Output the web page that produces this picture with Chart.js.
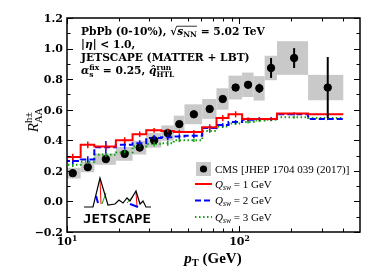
<!DOCTYPE html>
<html>
<head>
<meta charset="utf-8">
<script src="https://cdn.jsdelivr.net/npm/chart.js@4.4.1/dist/chart.umd.min.js"></script>
<style>
html, body { margin: 0; padding: 0; background: #fff; }
</style>
</head>
<body>
<canvas id="raa" width="374" height="280"></canvas>
<script>
// pT bins (GeV), shared by the CMS data and the model histograms
const binEdges = [9.6, 12, 14.4, 19.2, 24, 28.8, 35.2, 41.6, 48, 60.8, 73.6, 86.4, 103.6, 120.8, 140, 165, 250, 400];
const binCenters = [10.8, 13.2, 16.8, 21.6, 26.4, 32, 38.4, 44.8, 54.4, 67.2, 80, 95, 112.2, 130.4, 152.5, 207.5, 325];

// CMS charged hadron R_AA, 0-10%
const cmsRaa  = [0.185, 0.224, 0.277, 0.311, 0.352, 0.40, 0.447, 0.506, 0.57, 0.605, 0.67, 0.745, 0.763, 0.74, 0.873, 0.938, 0.745];
const cmsStat = [0.005, 0.005, 0.005, 0.005, 0.005, 0.005, 0.006, 0.006, 0.008, 0.01, 0.012, 0.02, 0.02, 0.03, 0.065, 0.065, 0.2];
const cmsSys  = [0.035, 0.033, 0.037, 0.045, 0.045, 0.048, 0.05, 0.055, 0.065, 0.065, 0.07, 0.078, 0.08, 0.08, 0.08, 0.11, 0.083];

// MATTER+LBT for three switching virtualities
const qsw1 = [0.29, 0.37, 0.36, 0.40, 0.44, 0.465, 0.46, 0.455, 0.455, 0.485, 0.545, 0.57, 0.54, 0.54, 0.54, 0.575, 0.57];
const qsw2 = [0.265, 0.275, 0.355, 0.37, 0.38, 0.415, 0.42, 0.425, 0.43, 0.48, 0.50, 0.52, 0.535, 0.54, 0.54, 0.57, 0.54];
const qsw3 = [0.24, 0.26, 0.305, 0.32, 0.36, 0.375, 0.38, 0.40, 0.40, 0.46, 0.49, 0.51, 0.52, 0.53, 0.535, 0.55, 0.545];
const qsw1Err = [0.022, 0.022, 0.022, 0.02, 0.018, 0.015, 0.015, 0.012, 0.012, 0.02, 0.02, 0.02, 0.01, 0.01, 0.01, 0.008, 0.008];
const qsw2Err = [0.02, 0.02, 0.04, 0.03, 0.02, 0.02, 0.02, 0.015, 0.015, 0.015, 0.012, 0.012, 0.01, 0.01, 0.01, 0.008, 0.008];
const qsw3Err = [0.015, 0.015, 0.015, 0.015, 0.015, 0.015, 0.015, 0.012, 0.012, 0.012, 0.01, 0.01, 0.01, 0.01, 0.01, 0.008, 0.008];

const yTicks = [-0.2, 0.0, 0.2, 0.4, 0.6, 0.8, 1.0, 1.2];
const yTickLabels = ['\u22120.2', '0.0', '0.2', '0.4', '0.6', '0.8', '1.0', '1.2'];
const xMajor = [10, 100];
const xMajorExp = ['1', '2'];
const xMinor = [20, 30, 40, 50, 60, 70, 80, 90, 200, 300, 400];

const SERIF = '"Liberation Serif", "DejaVu Serif", serif';
const WIDE = '"DejaVu Serif", "Liberation Serif", serif';
const RED = '#ff0000';
const BLUE = '#0000ff';
const GREEN = '#13a013';

function stepData(values) {
    const pts = values.map((v, i) => ({ x: binEdges[i], y: v }));
    pts.push({ x: binEdges[binEdges.length - 1], y: values[values.length - 1] });
    return pts;
}

// draw text made of pieces: [text, kind, extra]; kind n = upright, i = italic, sub, sup, ss = sup+sub
function drawRich(ctx, x, y, parts, size, weight, dry, family) {
    let cx = x;
    const fam = family || SERIF;
    const f = (it, s) => (it ? 'italic ' : '') + weight + ' ' + s + 'px ' + fam;
    parts.forEach(p => {
        const txt = p[0], kind = p[1];
        if (kind === 'n' || kind === 'i') {
            ctx.font = f(kind === 'i', size);
            if (!dry) ctx.fillText(txt, cx, y);
            cx += ctx.measureText(txt).width;
        } else if (kind === 'sub') {
            ctx.font = f(p[2], size * 0.7);
            if (!dry) ctx.fillText(txt, cx, y + size * 0.22);
            cx += ctx.measureText(txt).width;
        } else if (kind === 'sup') {
            ctx.font = f(p[2], size * 0.7);
            if (!dry) ctx.fillText(txt, cx, y - size * 0.4);
            cx += ctx.measureText(txt).width;
        } else if (kind === 'ss') {
            ctx.font = f(false, size * 0.7);
            const w1 = ctx.measureText(txt).width;
            const w2 = ctx.measureText(p[2]).width;
            if (!dry) {
                ctx.fillText(txt, cx, y - size * 0.42);
                ctx.fillText(p[2], cx, y + size * 0.25);
            }
            cx += Math.max(w1, w2);
        }
    });
    return cx;
}

function drawBoxes(chart) {
    const ctx = chart.ctx, xs = chart.scales.x, ys = chart.scales.y, a = chart.chartArea;
    ctx.save();
    ctx.beginPath();
    ctx.rect(a.left, a.top, a.right - a.left, a.bottom - a.top);
    ctx.clip();
    ctx.fillStyle = '#c9c9c9';
    cmsRaa.forEach((v, i) => {
        const x0 = xs.getPixelForValue(binEdges[i]);
        const x1 = xs.getPixelForValue(binEdges[i + 1]);
        const y0 = ys.getPixelForValue(v + cmsSys[i]);
        const y1 = ys.getPixelForValue(v - cmsSys[i]);
        ctx.fillRect(x0, y0, x1 - x0, y1 - y0);
    });
    ctx.restore();
}

function drawErrors(chart) {
    const ctx = chart.ctx, xs = chart.scales.x, ys = chart.scales.y, a = chart.chartArea;
    ctx.save();
    ctx.beginPath();
    ctx.rect(a.left, a.top, a.right - a.left, a.bottom - a.top);
    ctx.clip();
    const sets = [[qsw3, qsw3Err, GREEN], [qsw2, qsw2Err, BLUE], [qsw1, qsw1Err, RED]];
    sets.forEach(s => {
        ctx.strokeStyle = s[2];
        ctx.lineWidth = 1.5;
        s[0].forEach((v, i) => {
            const x = xs.getPixelForValue(binCenters[i]);
            ctx.beginPath();
            ctx.moveTo(x, ys.getPixelForValue(v - s[1][i]));
            ctx.lineTo(x, ys.getPixelForValue(v + s[1][i]));
            ctx.stroke();
        });
    });
    ctx.strokeStyle = '#000';
    ctx.lineWidth = 2;
    cmsRaa.forEach((v, i) => {
        const x = xs.getPixelForValue(binCenters[i]);
        ctx.beginPath();
        ctx.moveTo(x, ys.getPixelForValue(v - cmsStat[i]));
        ctx.lineTo(x, ys.getPixelForValue(v + cmsStat[i]));
        ctx.stroke();
    });
    ctx.restore();
}

function drawAxes(chart) {
    const ctx = chart.ctx, xs = chart.scales.x, ys = chart.scales.y, a = chart.chartArea;
    ctx.save();
    ctx.strokeStyle = '#000';
    ctx.fillStyle = '#000';
    ctx.lineWidth = 1.5;
    ctx.strokeRect(a.left, a.top, a.right - a.left, a.bottom - a.top);
    ctx.lineWidth = 1;
    // y ticks, both sides
    for (let k = -2; k <= 12; k++) {
        const y = Math.round(ys.getPixelForValue(k / 10)) + 0.5;
        const len = k % 2 === 0 ? 6 : 3.5;
        ctx.beginPath();
        ctx.moveTo(a.left, y); ctx.lineTo(a.left + len, y);
        ctx.moveTo(a.right, y); ctx.lineTo(a.right - len, y);
        ctx.stroke();
    }
    // x ticks, top and bottom
    xMajor.concat(xMinor).forEach(v => {
        const x = Math.round(xs.getPixelForValue(v)) + 0.5;
        const len = xMajor.includes(v) ? 6 : 3.5;
        ctx.beginPath();
        ctx.moveTo(x, a.bottom); ctx.lineTo(x, a.bottom - len);
        ctx.moveTo(x, a.top); ctx.lineTo(x, a.top + len);
        ctx.stroke();
    });
    // y tick labels
    ctx.font = 'bold 11px ' + WIDE;
    ctx.textAlign = 'right';
    ctx.textBaseline = 'middle';
    yTicks.forEach((v, i) => {
        ctx.fillText(yTickLabels[i], a.left - 4, ys.getPixelForValue(v) + 1);
    });
    // x tick labels 10^n
    ctx.textAlign = 'left';
    ctx.textBaseline = 'alphabetic';
    xMajor.forEach((v, i) => {
        const parts = [['10', 'n'], [xMajorExp[i], 'sup']];
        const w = drawRich(ctx, 0, 0, parts, 11, 'bold', true, WIDE);
        drawRich(ctx, xs.getPixelForValue(v) - w / 2, a.bottom + 13, parts, 11, 'bold', false, WIDE);
    });
    // axis titles
    const xt = [['p', 'i'], ['T', 'sub'], [' (GeV)', 'n']];
    const wx = drawRich(ctx, 0, 0, xt, 15, 'bold', true);
    drawRich(ctx, 213 - wx / 2, 263, xt, 15, 'bold');
    ctx.save();
    ctx.translate(38, 120);
    ctx.rotate(-Math.PI / 2);
    const yt = [['R', 'i'], ['h\u00b1', 'ss', 'AA']];
    const wy = drawRich(ctx, 0, 0, yt, 15, 'normal', true);
    drawRich(ctx, -wy / 2, 0, yt, 15, 'normal');
    ctx.restore();
    ctx.restore();
}

function drawNotes(chart) {
    const ctx = chart.ctx;
    ctx.save();
    ctx.fillStyle = '#000';
    ctx.textAlign = 'left';
    ctx.textBaseline = 'alphabetic';
    const s = 10.7, x0 = 81;
    let x = drawRich(ctx, x0, 35, [['PbPb (0-10%), ', 'n'], ['\u221a', 'n']], s, 'bold', false, WIDE);
    const x2 = drawRich(ctx, x, 35, [['s', 'i'], ['NN', 'sub']], s, 'bold', false, WIDE);
    ctx.strokeStyle = '#000';
    ctx.lineWidth = 0.8;
    ctx.beginPath();
    ctx.moveTo(x - 0.5, 35 - s * 0.82);
    ctx.lineTo(x2, 35 - s * 0.82);
    ctx.stroke();
    drawRich(ctx, x2, 35, [[' = 5.02 TeV', 'n']], s, 'bold', false, WIDE);
    drawRich(ctx, x0, 47.5, [['|', 'n'], ['\u03b7', 'i'], ['| < 1.0,', 'n']], s, 'bold', false, WIDE);
    drawRich(ctx, x0, 60.5, [['JETSCAPE (MATTER + LBT)', 'n']], s, 'bold', false, WIDE);
    drawRich(ctx, x0, 74, [['\u03b1', 'i'], ['fix', 'ss', 's'], [' = 0.25, ', 'n'], ['q\u0302', 'i'], ['run', 'ss', 'HTL']], s, 'bold', false, WIDE);
    ctx.restore();
}

function drawLegend(chart) {
    const ctx = chart.ctx;
    ctx.save();
    ctx.fillStyle = '#c9c9c9';
    ctx.fillRect(196, 162, 15, 14);
    ctx.fillStyle = '#000';
    ctx.beginPath();
    ctx.arc(203.5, 169, 3.6, 0, Math.PI * 2);
    ctx.fill();
    ctx.textAlign = 'left';
    ctx.textBaseline = 'alphabetic';
    drawRich(ctx, 215, 172.5, [['CMS [JHEP 1704 039 (2017)]', 'n']], 11, 'normal');
    const rows = [[RED, [], '1', 184], [BLUE, [6, 3], '2', 200.5], [GREEN, [1.5, 2.5], '3', 217]];
    rows.forEach(r => {
        ctx.strokeStyle = r[0];
        ctx.lineWidth = 2;
        ctx.setLineDash(r[1]);
        ctx.beginPath();
        ctx.moveTo(195, r[3]);
        ctx.lineTo(212, r[3]);
        ctx.stroke();
        ctx.setLineDash([]);
        ctx.fillStyle = '#000';
        drawRich(ctx, 215, r[3] + 3.5, [['Q', 'i'], ['sw', 'sub', true], [' = ' + r[2] + ' GeV', 'n']], 11, 'normal');
    });
    ctx.restore();
}

function drawLogo(chart) {
    const ctx = chart.ctx;
    ctx.save();
    ctx.lineWidth = 1;
    // coloured strokes under the black outline
    ctx.strokeStyle = RED;
    ctx.beginPath(); ctx.moveTo(100, 180); ctx.lineTo(101, 204); ctx.stroke();
    ctx.beginPath(); ctx.moveTo(136, 193); ctx.lineTo(137, 206); ctx.stroke();
    ctx.strokeStyle = GREEN;
    ctx.beginPath(); ctx.moveTo(102, 204); ctx.lineTo(106, 193); ctx.stroke();
    ctx.beginPath(); ctx.moveTo(127, 203); ctx.lineTo(133, 196); ctx.stroke();
    ctx.strokeStyle = BLUE;
    ctx.lineWidth = 2;
    ctx.beginPath(); ctx.moveTo(96, 196); ctx.lineTo(98, 203); ctx.stroke();
    ctx.beginPath(); ctx.moveTo(130, 204); ctx.lineTo(138, 207); ctx.stroke();
    ctx.lineWidth = 1.2;
    ctx.strokeStyle = '#000';
    ctx.beginPath();
    const pts = [[84, 207], [93, 207], [100, 178], [108, 205], [115, 204], [119, 200], [123, 203], [127, 198], [130, 201], [136, 191], [140, 204], [143, 201], [146, 207], [151, 207]];
    pts.forEach((p, i) => (i ? ctx.lineTo(p[0], p[1]) : ctx.moveTo(p[0], p[1])));
    ctx.stroke();
    ctx.fillStyle = '#000';
    ctx.font = 'bold 13px "DejaVu Sans Mono", monospace';
    ctx.textBaseline = 'alphabetic';
    const w = ctx.measureText('JETSCAPE').width;
    ctx.translate(83, 223);
    ctx.scale(68 / w, 1);
    ctx.fillText('JETSCAPE', 0, 0);
    ctx.restore();
}

const decorPlugin = {
    id: 'decor',
    beforeDatasetsDraw(chart) { drawBoxes(chart); },
    afterDatasetsDraw(chart) {
        drawErrors(chart);
        drawAxes(chart);
        drawNotes(chart);
        drawLegend(chart);
        drawLogo(chart);
    }
};

document.addEventListener('DOMContentLoaded', function() {
    const ctx = document.getElementById('raa').getContext('2d');
    new Chart(ctx, {
        type: 'scatter',
        data: {
            datasets: [
                { label: 'CMS', data: binCenters.map((x, i) => ({ x: x, y: cmsRaa[i] })),
                  pointRadius: 3.7, backgroundColor: '#000', borderColor: '#000', order: 0 },
                { label: 'Qsw = 1 GeV', type: 'line', data: stepData(qsw1), stepped: 'before',
                  borderColor: RED, borderWidth: 2, pointRadius: 0, fill: false, order: 1 },
                { label: 'Qsw = 2 GeV', type: 'line', data: stepData(qsw2), stepped: 'before',
                  borderColor: BLUE, borderWidth: 2, borderDash: [6, 3], pointRadius: 0, fill: false, order: 2 },
                { label: 'Qsw = 3 GeV', type: 'line', data: stepData(qsw3), stepped: 'before',
                  borderColor: GREEN, borderWidth: 2, borderDash: [1.5, 2.5], pointRadius: 0, fill: false, order: 3 }
            ]
        },
        options: {
            responsive: false,
            animation: false,
            devicePixelRatio: 1,
            layout: { padding: { left: 67, right: 14, top: 18, bottom: 48 } },
            plugins: { legend: { display: false }, tooltip: { enabled: false } },
            scales: {
                x: { type: 'logarithmic', min: 10, max: 500, display: false },
                y: { type: 'linear', min: -0.2, max: 1.2, display: false }
            }
        },
        plugins: [decorPlugin]
    });
});
</script>
</body>
</html>
